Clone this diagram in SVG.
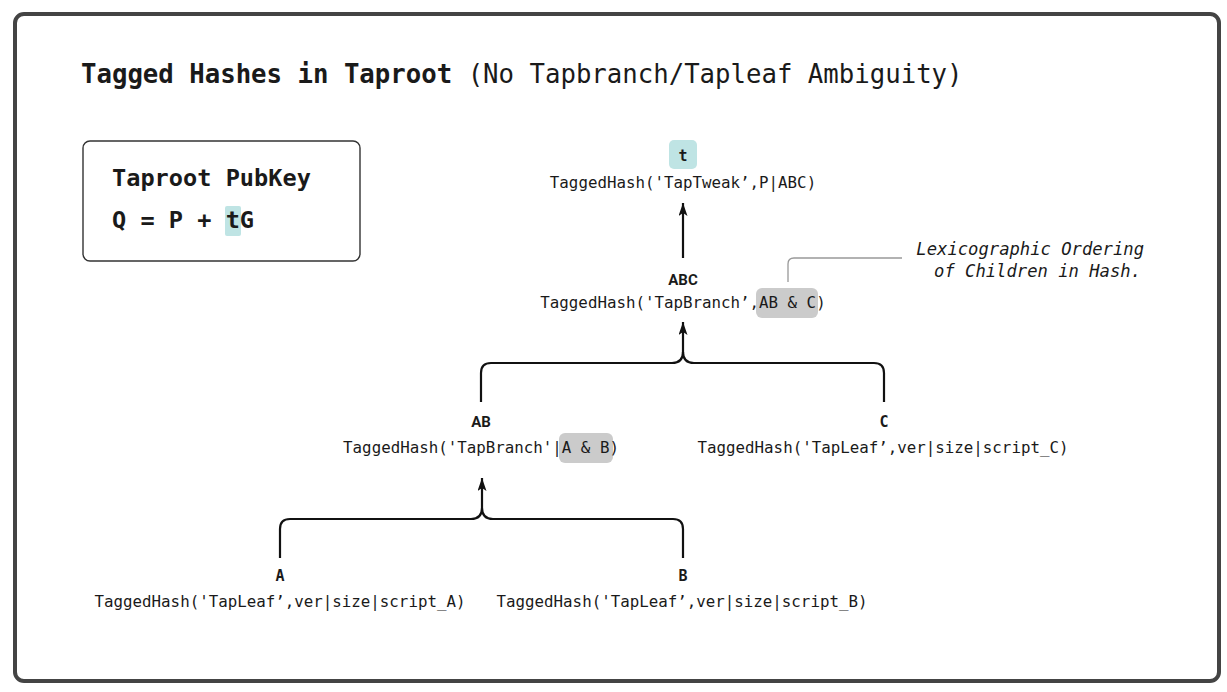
<svg xmlns="http://www.w3.org/2000/svg" width="1227" height="692" viewBox="0 0 1227 692">
  <style>
    .mono { font-family: "DejaVu Sans Mono", "Liberation Mono", monospace; fill: #1a1a1a; }
    .hash { font-size: 15.8px; text-anchor: middle; }
    .lbl { font-size: 15px; font-weight: bold; text-anchor: middle; }
    .lbls { font-family: Roboto, "Liberation Sans", sans-serif; font-size: 15px; font-weight: bold; fill: #1a1a1a; text-anchor: middle; }
    .conn { fill: none; stroke: #111; stroke-width: 2.2; }
    .hl-teal { fill: #bfe4e4; }
    .hl-gray { fill: #cbcbcb; }
    .note { font-size: 17.2px; font-style: italic; text-anchor: end; }
  </style>
  <defs>
    <marker id="arrow" viewBox="0 0 13 9" refX="13" refY="4.5" markerWidth="13" markerHeight="9" markerUnits="userSpaceOnUse" orient="auto">
      <path d="M0,0 L13,4.5 L0,9 L3,4.5 z" fill="#111"/>
    </marker>
  </defs>

  <rect width="1227" height="692" fill="#ffffff"/>
  <!-- frame -->
  <rect x="15" y="14" width="1204" height="667" rx="9" fill="none" stroke="#444" stroke-width="4"/>

  <!-- heading -->
  <text class="mono" x="81" y="83" font-size="25.7px"><tspan font-weight="bold">Tagged Hashes in Taproot</tspan> (No Tapbranch/Tapleaf Ambiguity)</text>

  <!-- public key formula box -->
  <g id="pubkey">
    <rect x="83" y="141" width="277" height="120" rx="7" fill="none" stroke="#333" stroke-width="1.4"/>
    <rect class="hl-teal" x="225" y="206" width="16" height="30" rx="2"/>
    <text class="mono" x="112" y="186" font-size="23.6px" font-weight="bold">Taproot PubKey</text>
    <text class="mono" x="112" y="228" font-size="23.6px" font-weight="bold">Q = P + tG</text>
  </g>

  <!-- connectors -->
  <g id="connectors">
    <line class="conn" x1="683" y1="258" x2="683" y2="203" marker-end="url(#arrow)"/>
    <path class="conn" d="M481,402 V373 Q481,363 491,363 H672 Q683,363 683,352 Q683,363 694,363 H874 Q884,363 884,373 V402"/>
    <line class="conn" x1="683" y1="353" x2="683" y2="322" marker-end="url(#arrow)"/>
    <path class="conn" d="M280,558 V529 Q280,519 290,519 H471 Q482,519 482,508 Q482,519 493,519 H673 Q683,519 683,529 V558"/>
    <line class="conn" x1="482" y1="509" x2="482" y2="478" marker-end="url(#arrow)"/>
    <path d="M788,282 V264 Q788,258 794,258 H902" fill="none" stroke="#999" stroke-width="1.3"/>
  </g>

  <!-- root tweak -->
  <g id="node-t">
    <rect class="hl-teal" x="669" y="140" width="28" height="29" rx="5"/>
    <text class="mono lbl" x="683" y="161">t</text>
    <text class="mono hash" x="683" y="188">TaggedHash('TapTweak’,P|ABC)</text>
  </g>

  <g id="node-abc">
    <rect class="hl-gray" x="756" y="288" width="62" height="30" rx="6"/>
    <text class="lbls" x="683" y="285">ABC</text>
    <text class="mono hash" x="683" y="308">TaggedHash('TapBranch’,AB &amp; C)</text>
  </g>

  <g id="note">
    <text class="mono note" x="1144" y="255">Lexicographic Ordering</text>
    <text class="mono note" x="1141" y="277">of Children in Hash.</text>
  </g>

  <g id="node-ab">
    <rect class="hl-gray" x="559" y="433" width="54" height="30" rx="6"/>
    <text class="lbls" x="481" y="427">AB</text>
    <text class="mono hash" x="481" y="453">TaggedHash('TapBranch'|A &amp; B)</text>
  </g>

  <g id="node-c">
    <text class="mono lbl" x="884" y="427">C</text>
    <text class="mono hash" x="883" y="453">TaggedHash('TapLeaf’,ver|size|script_C)</text>
  </g>

  <g id="node-a">
    <text class="mono lbl" x="280" y="581">A</text>
    <text class="mono hash" x="280" y="607">TaggedHash('TapLeaf’,ver|size|script_A)</text>
  </g>

  <g id="node-b">
    <text class="mono lbl" x="683" y="581">B</text>
    <text class="mono hash" x="682" y="607">TaggedHash('TapLeaf’,ver|size|script_B)</text>
  </g>
</svg>
